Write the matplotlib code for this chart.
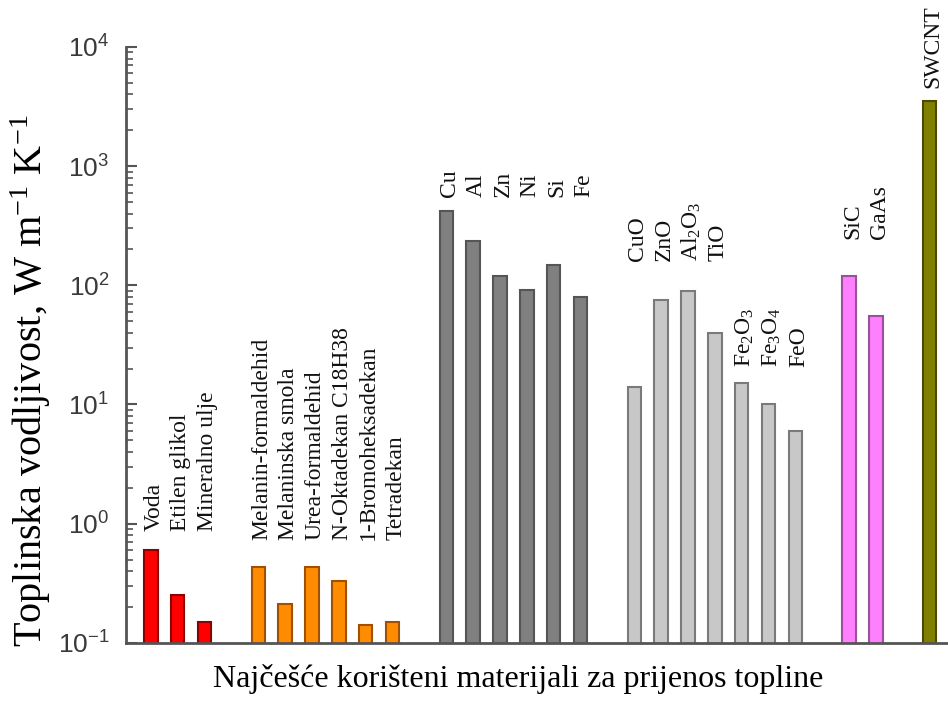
import matplotlib.pyplot as plt
import numpy as np

plt.rcParams['font.family'] = 'Liberation Sans'
plt.rcParams['mathtext.default'] = 'regular'

# toplinska vodljivost u W/(m K), ocitano sa slike
tekucine = ['Voda', 'Etilen glikol', 'Mineralno ulje']
k_tekucine = [0.6, 0.25, 0.15]

pcm = ['Melanin-formaldehid', 'Melaninska smola', 'Urea-formaldehid',
       'N-Oktadekan C18H38', '1-Bromoheksadekan', 'Tetradekan']
k_pcm = [0.43, 0.21, 0.43, 0.33, 0.14, 0.15]

metali = ['Cu', 'Al', 'Zn', 'Ni', 'Si', 'Fe']
k_metali = [420, 235, 120, 92, 148, 80]

oksidi = ['CuO', 'ZnO', 'Al$_2$O$_3$', 'TiO', 'Fe$_2$O$_3$', 'Fe$_3$O$_4$', 'FeO']
k_oksidi = [14, 75, 90, 40, 15, 10, 6]

karbidi = ['SiC', 'GaAs']
k_karbidi = [120, 55]

nanocijevi = ['SWCNT']
k_nanocijevi = [3500]

# izgled grupa: boja, rub, visina natpisa
grupe = [
    (tekucine, k_tekucine, '#ff0000', '#8b0000', [0.86] * 3),
    (pcm, k_pcm, '#ff8c00', '#a05000', [0.73] * 6),
    (metali, k_metali, '#808080', '#555555', [550] * 6),
    (oksidi, k_oksidi, '#c8c8c8', '#7a7a7a', [160] * 4 + [20.5] * 3),
    (karbidi, k_karbidi, '#ff80ff', '#9a509a', [245] * 2),
    (nanocijevi, k_nanocijevi, '#808000', '#4a4a00', [4500]),
]

fig = plt.figure(figsize=(9.48, 7.01), dpi=100)
ax = fig.add_axes([0.133, 0.083, 0.867, 0.85])

pos = 0
for imena, vrijednosti, boja, rub, natpis_y in grupe:
    x = np.arange(pos, pos + len(imena))
    ax.bar(x, vrijednosti, width=0.5, color=boja, edgecolor=rub, linewidth=1.5, zorder=2)
    for xi, ime, yi in zip(x, imena, natpis_y):
        ax.text(xi + 0.12, yi, ime, rotation=90, ha='center', va='bottom',
                family='Liberation Serif', fontsize=17, color='#111111')
    pos += len(imena) + 1

ax.set_yscale('log')
ax.set_ylim(0.1, 1e4)
ax.set_xlim(-0.92, 29.68)

for s in ['top', 'right']:
    ax.spines[s].set_visible(False)
for s in ['left', 'bottom']:
    ax.spines[s].set_color('#555555')
    ax.spines[s].set_linewidth(2)

ax.set_xticks([])
ax.tick_params(axis='y', which='major', direction='in', length=8, width=1.5,
               color='#555555', labelsize=19, labelcolor='#3a3a3a', pad=12)
ax.tick_params(axis='y', which='minor', direction='in', length=5, width=1.2,
               color='#555555')

ax.set_ylabel('Toplinska vodljivost, W m$^{-1}$ K$^{-1}$', family='Liberation Serif',
              fontsize=29)
ax.yaxis.set_label_coords(-0.089, 0.44)
ax.set_xlabel('Najčešće korišteni materijali za prijenos topline', family='Liberation Serif',
              fontsize=23)
ax.xaxis.set_label_coords(0.477, -0.036)

plt.savefig('out.png', dpi=100)
